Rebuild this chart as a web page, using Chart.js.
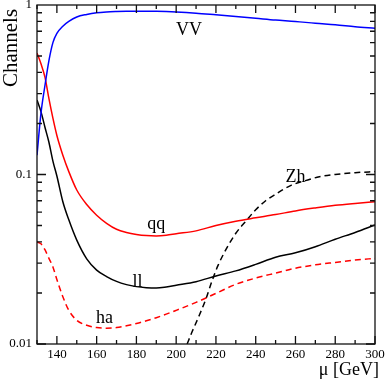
<!DOCTYPE html>
<html>
<head>
<meta charset="utf-8">
<script src="https://cdn.jsdelivr.net/npm/chart.js@4"></script>
<style>
  html, body { margin: 0; padding: 0; background: #fff; }
  #wrap { width: 386px; height: 382px; }
</style>
</head>
<body>
<div id="wrap"><canvas id="chart" width="386" height="382"></canvas></div>
<script>
const mu = [130, 132, 134, 136, 138, 140, 143, 146, 150, 155, 160, 165, 170, 175, 180, 185, 190, 195, 200, 210, 220, 230, 240, 250, 260, 270, 280, 290, 300];
const vvVals = [0.13, 0.23, 0.335, 0.47, 0.6, 0.68, 0.75, 0.8, 0.85, 0.88, 0.9, 0.91, 0.915, 0.918, 0.92, 0.92, 0.918, 0.915, 0.91, 0.895, 0.875, 0.855, 0.835, 0.815, 0.8, 0.78, 0.765, 0.745, 0.73];
const qqVals = [0.52, 0.45, 0.375, 0.28, 0.215, 0.17, 0.13, 0.104, 0.081, 0.0665, 0.0575, 0.0515, 0.0475, 0.0455, 0.0443, 0.0436, 0.0434, 0.0438, 0.0447, 0.0465, 0.05, 0.053, 0.0555, 0.058, 0.061, 0.0635, 0.0658, 0.0675, 0.069];
const llVals = [0.275, 0.235, 0.19, 0.155, 0.12, 0.098, 0.069, 0.054, 0.041, 0.0318, 0.0273, 0.025, 0.0234, 0.0224, 0.0218, 0.0215, 0.0214, 0.0217, 0.0222, 0.0233, 0.0252, 0.027, 0.0295, 0.0325, 0.0345, 0.0375, 0.0415, 0.0455, 0.0504];
const haVals = [0.04, 0.039, 0.036, 0.032, 0.0285, 0.024, 0.019, 0.0158, 0.0138, 0.0129, 0.0125, 0.0124, 0.0125, 0.0128, 0.0132, 0.0137, 0.0143, 0.015, 0.0158, 0.0176, 0.0199, 0.0225, 0.0245, 0.0262, 0.028, 0.0293, 0.0303, 0.0313, 0.032];
const zhMu = [205.5, 208, 211, 215, 218, 221, 225, 230, 235, 240, 245, 250, 258, 265, 272, 280, 290, 300];
const zhVals = [0.01, 0.0118, 0.0142, 0.0185, 0.0235, 0.029, 0.036, 0.045, 0.053, 0.062, 0.07, 0.0765, 0.0865, 0.092, 0.097, 0.1, 0.1025, 0.104];

const xTickVals = [140, 160, 180, 200, 220, 240, 260, 280, 300];
const yTickVals = [0.01, 0.1, 1];
const yTickLabels = ['0.01', '0.1', '1'];

const serif = 'Liberation Serif, Times New Roman, serif';

function pts(xs, ys) {
  return xs.map((x, i) => ({ x: x, y: ys[i] }));
}

// frame, inward ticks and the curve names
const framePlugin = {
  id: 'frame',
  afterDraw(chart) {
    const ctx = chart.ctx;
    const a = chart.chartArea;
    const xs = chart.scales.x, ys = chart.scales.y;
    ctx.save();
    ctx.strokeStyle = '#111';
    ctx.lineWidth = 1.3;
    ctx.strokeRect(a.left, a.top, a.right - a.left, a.bottom - a.top);

    ctx.beginPath();
    for (let v = 130; v <= 300; v += 10) {
      const px = xs.getPixelForValue(v);
      const len = v % 20 === 0 ? 8 : 4;
      ctx.moveTo(px, a.bottom); ctx.lineTo(px, a.bottom - len);
      ctx.moveTo(px, a.top); ctx.lineTo(px, a.top + len);
    }
    for (let d = 0.01; d < 1; d *= 10) {
      for (let m = 1; m <= 9; m++) {
        const py = ys.getPixelForValue(d * m);
        const len = m === 1 ? 9 : 5;
        ctx.moveTo(a.left, py); ctx.lineTo(a.left + len, py);
        ctx.moveTo(a.right, py); ctx.lineTo(a.right - len, py);
      }
    }
    ctx.stroke();

    ctx.fillStyle = '#000';
    ctx.font = '18px ' + serif;
    ctx.textAlign = 'center';
    ctx.textBaseline = 'alphabetic';
    const names = [['VV', 206.5, 0.665], ['qq', 190, 0.0477], ['ll', 180.5, 0.0217], ['ha', 164, 0.0133], ['Zh', 260, 0.0903]];
    names.forEach(n => ctx.fillText(n[0], xs.getPixelForValue(n[1]), ys.getPixelForValue(n[2])));

    ctx.font = '18px ' + serif;
    ctx.textAlign = 'right';
    ctx.fillText('\u03bc [GeV]', 379, 375);

    ctx.translate(17, 48);
    ctx.rotate(-Math.PI / 2);
    ctx.font = '21px ' + serif;
    ctx.textAlign = 'center';
    ctx.fillText('Channels', 0, 0);
    ctx.restore();
  }
};

new Chart(document.getElementById('chart'), {
  type: 'line',
  data: {
    datasets: [
      { label: 'VV', data: pts(mu, vvVals), borderColor: '#0000ff', borderWidth: 1.5 },
      { label: 'qq', data: pts(mu, qqVals), borderColor: '#ff0000', borderWidth: 1.5 },
      { label: 'll', data: pts(mu, llVals), borderColor: '#000000', borderWidth: 1.5 },
      { label: 'ha', data: pts(mu, haVals), borderColor: '#ff0000', borderWidth: 1.5, borderDash: [6, 4] },
      { label: 'Zh', data: pts(zhMu, zhVals), borderColor: '#000000', borderWidth: 1.5, borderDash: [6, 4] }
    ]
  },
  options: {
    responsive: false,
    animation: false,
    devicePixelRatio: 1,
    elements: {
      point: { radius: 0 },
      line: { cubicInterpolationMode: 'monotone', fill: false }
    },
    layout: { padding: { top: 5, right: 11, left: 0, bottom: 0 } },
    plugins: { legend: { display: false }, tooltip: { enabled: false } },
    scales: {
      x: {
        type: 'linear',
        min: 130,
        max: 300,
        afterBuildTicks(s) { s.ticks = xTickVals.map(v => ({ value: v })); },
        afterFit(s) { s.height = 38; s.paddingLeft = 0; s.paddingRight = 0; },
        grid: { display: false, drawTicks: false },
        border: { display: false },
        ticks: { font: { family: serif, size: 13 }, color: '#000', padding: 3, maxRotation: 0, autoSkip: false }
      },
      y: {
        type: 'logarithmic',
        min: 0.01,
        max: 1,
        afterBuildTicks(s) { s.ticks = yTickVals.map(v => ({ value: v })); },
        afterFit(s) { s.width = 37; s.paddingTop = 0; s.paddingBottom = 0; },
        grid: { display: false, drawTicks: false },
        border: { display: false },
        ticks: {
          font: { family: serif, size: 13 },
          color: '#000',
          padding: 5,
          autoSkip: false,
          callback: (v, i) => yTickLabels[i]
        }
      }
    }
  },
  plugins: [framePlugin]
});
</script>
</body>
</html>
